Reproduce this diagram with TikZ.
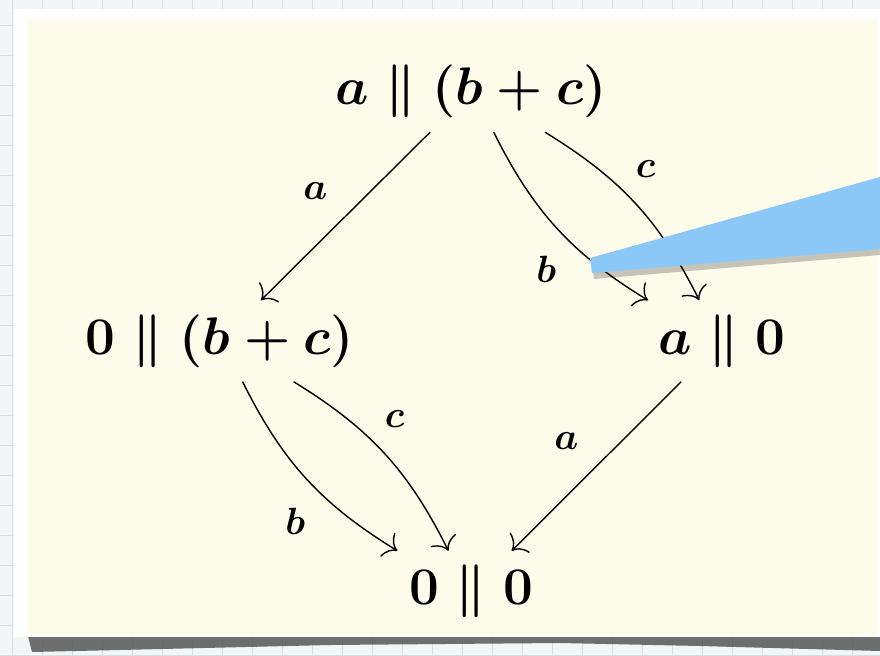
\RequirePackage{fix-cm}
\documentclass[tikz,border=0pt]{standalone}
\usepackage{amsmath,amssymb}
\usepackage{tikz}
\usetikzlibrary{arrows.meta,positioning}
\usepackage{xcolor}
\definecolor{paper}{HTML}{FDFCEB}
\definecolor{desk}{HTML}{F3F6F7}
\definecolor{gridblue}{HTML}{D6DFE4}
\definecolor{pointer}{HTML}{8BC8F7}

\begin{document}
\begin{tikzpicture}[
  x=0.025cm, y=-0.025cm,
  state/.style={font=\fontsize{37.6}{45}\selectfont\boldmath, inner sep=0.35cm},
  lbl/.style={font=\fontsize{27}{32}\selectfont\boldmath, inner sep=0pt},
  arrow/.style={-{Computer Modern Rightarrow[length=3mm,width=7mm]}, line width=1pt, draw=black},
  gridline/.style={draw=gridblue, line width=0.6pt}
]
  \useasboundingbox (0,0) rectangle (880,656);

  % desk with graph paper
  \fill[desk] (0,0) rectangle (880,656);
  \foreach \gx in {12,42,...,880} \draw[gridline] (\gx,0) -- (\gx,656);
  \foreach \gy in {25,55,...,656} \draw[gridline] (0,\gy) -- (880,\gy);

  % sheet of paper
  \fill[black!70, opacity=0.8] (28,636) -- (880,634) -- (880,651) -- (700,646)
    -- (560,643) -- (330,645) -- (120,650) -- (32,652) -- cycle;
  \fill[white] (14,9) rectangle (880,637);
  \fill[paper] (27,19) rectangle (878,634);

  % states
  \node[state] (abc) at (471,91.5) {$a \parallel (b+c)$};
  \node[state] (zbc) at (220,341) {$0 \parallel (b+c)$};
  \node[state] (az) at (722,341) {$a \parallel 0$};
  \node[state] (zz) at (471,591.5) {$0 \parallel 0$};

  % transitions
  \draw[arrow] (abc) -- node[lbl, shift={(-30,-25)}] (la1) {$a$} (zbc);
  \draw[arrow] (abc) to[bend right=16] node[lbl, shift={(-11,41)}] (lb1) {$b$} (az);
  \draw[arrow] (abc) to[bend left=16] node[lbl, shift={(10,-35)}] (lc1) {$c$} (az);
  \draw[arrow] (zbc) to[bend right=16] node[lbl, shift={(-11,43)}] (lb2) {$b$} (zz);
  \draw[arrow] (zbc) to[bend left=16] node[lbl, shift={(10,-35)}] (lc2) {$c$} (zz);
  \draw[arrow] (az) -- node[lbl, shift={(-30,-25)}] (la2) {$a$} (zz);

  % pointer
  \fill[black, opacity=0.22] (592,264) -- (594,279) -- (880,255) -- (880,183) -- cycle;
  \fill[pointer] (590,258) -- (592,273) -- (880,249) -- (880,177) -- cycle;
\end{tikzpicture}
\end{document}
